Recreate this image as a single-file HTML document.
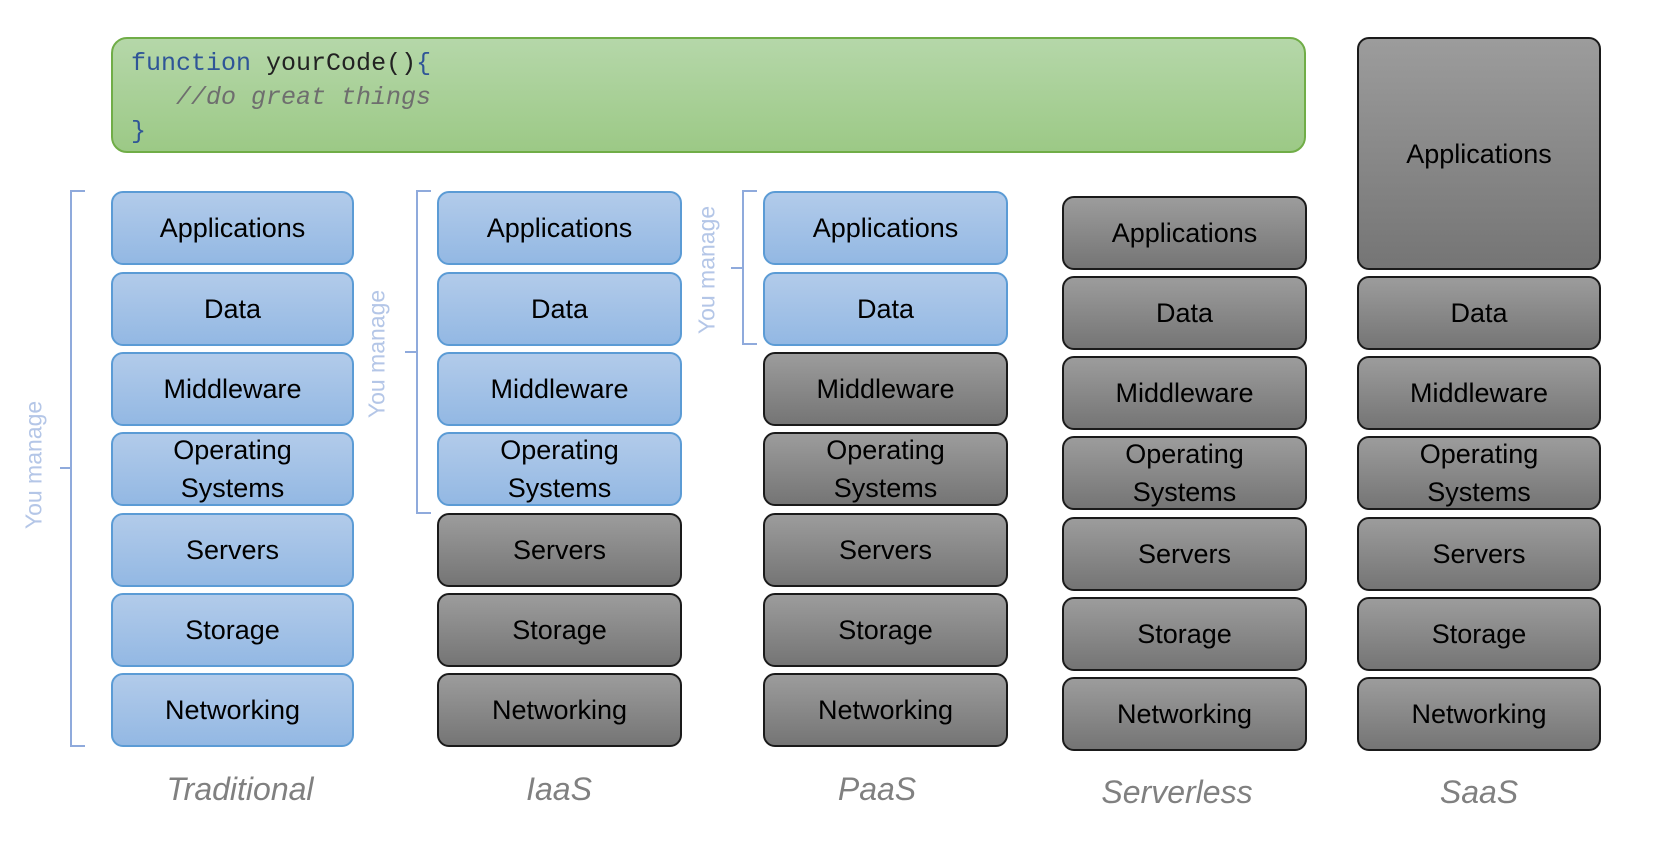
<!DOCTYPE html>
<html><head><meta charset="utf-8"><style>
body{margin:0;width:1654px;height:846px;background:#fff;position:relative;overflow:hidden;font-family:"Liberation Sans",sans-serif}
.b{position:absolute;box-sizing:border-box;border-radius:12px;display:flex;align-items:center;justify-content:center;text-align:center;font-size:27px;line-height:38px;color:#000}
.u{background:linear-gradient(#b2cbea,#93b8e3);border:2px solid #5b9bd5}
.g{background:linear-gradient(#9c9c9c,#757575);border:2px solid #1a1a1a}
.lbl{position:absolute;font-style:italic;color:#808080;font-size:32px;text-align:center;width:300px}
.ym{position:absolute;color:#b4c6e7;font-size:23px;transform:translate(-50%,-50%) rotate(-90deg);white-space:nowrap}
.code{position:absolute;left:111px;top:37px;width:1195px;height:116px;box-sizing:border-box;border:2px solid #70ad47;border-radius:16px;background:linear-gradient(#b5d7a9,#9cc986);font-family:"Liberation Mono",monospace;font-size:25px;line-height:34px;padding:8px 0 0 18px;white-space:pre}
</style></head><body>
<div class="code"><span style="color:#2f5597">function</span> <span style="color:#222">yourCode()</span><span style="color:#2f5597">{</span>
   <span style="color:#6e6e6e;font-style:italic">//do great things</span>
<span style="color:#2f5597">}</span></div>

<svg style="position:absolute;left:0;top:0" width="1654" height="846" fill="none" stroke="#8faadc" stroke-width="2">
<path d="M85 191 H71 V746 H85 M71 468 H60"/>
<path d="M431 191 H417 V513 H431 M417 352 H405"/>
<path d="M757 191 H743 V344 H757 M743 268 H731"/>
</svg>
<div class="ym" style="left:34px;top:465px">You manage</div>
<div class="ym" style="left:377px;top:354px">You manage</div>
<div class="ym" style="left:707px;top:270px">You manage</div>

<!-- Traditional -->
<div class="b u" style="left:111px;top:191px;width:243px;height:74px">Applications</div>
<div class="b u" style="left:111px;top:272px;width:243px;height:74px">Data</div>
<div class="b u" style="left:111px;top:352px;width:243px;height:74px">Middleware</div>
<div class="b u" style="left:111px;top:432px;width:243px;height:74px">Operating<br>Systems</div>
<div class="b u" style="left:111px;top:513px;width:243px;height:74px">Servers</div>
<div class="b u" style="left:111px;top:593px;width:243px;height:74px">Storage</div>
<div class="b u" style="left:111px;top:673px;width:243px;height:74px">Networking</div>
<!-- IaaS -->
<div class="b u" style="left:437px;top:191px;width:245px;height:74px">Applications</div>
<div class="b u" style="left:437px;top:272px;width:245px;height:74px">Data</div>
<div class="b u" style="left:437px;top:352px;width:245px;height:74px">Middleware</div>
<div class="b u" style="left:437px;top:432px;width:245px;height:74px">Operating<br>Systems</div>
<div class="b g" style="left:437px;top:513px;width:245px;height:74px">Servers</div>
<div class="b g" style="left:437px;top:593px;width:245px;height:74px">Storage</div>
<div class="b g" style="left:437px;top:673px;width:245px;height:74px">Networking</div>
<!-- PaaS -->
<div class="b u" style="left:763px;top:191px;width:245px;height:74px">Applications</div>
<div class="b u" style="left:763px;top:272px;width:245px;height:74px">Data</div>
<div class="b g" style="left:763px;top:352px;width:245px;height:74px">Middleware</div>
<div class="b g" style="left:763px;top:432px;width:245px;height:74px">Operating<br>Systems</div>
<div class="b g" style="left:763px;top:513px;width:245px;height:74px">Servers</div>
<div class="b g" style="left:763px;top:593px;width:245px;height:74px">Storage</div>
<div class="b g" style="left:763px;top:673px;width:245px;height:74px">Networking</div>
<!-- Serverless -->
<div class="b g" style="left:1062px;top:196px;width:245px;height:74px">Applications</div>
<div class="b g" style="left:1062px;top:276px;width:245px;height:74px">Data</div>
<div class="b g" style="left:1062px;top:356px;width:245px;height:74px">Middleware</div>
<div class="b g" style="left:1062px;top:436px;width:245px;height:74px">Operating<br>Systems</div>
<div class="b g" style="left:1062px;top:517px;width:245px;height:74px">Servers</div>
<div class="b g" style="left:1062px;top:597px;width:245px;height:74px">Storage</div>
<div class="b g" style="left:1062px;top:677px;width:245px;height:74px">Networking</div>
<!-- SaaS -->
<div class="b g" style="left:1357px;top:37px;width:244px;height:233px">Applications</div>
<div class="b g" style="left:1357px;top:276px;width:244px;height:74px">Data</div>
<div class="b g" style="left:1357px;top:356px;width:244px;height:74px">Middleware</div>
<div class="b g" style="left:1357px;top:436px;width:244px;height:74px">Operating<br>Systems</div>
<div class="b g" style="left:1357px;top:517px;width:244px;height:74px">Servers</div>
<div class="b g" style="left:1357px;top:597px;width:244px;height:74px">Storage</div>
<div class="b g" style="left:1357px;top:677px;width:244px;height:74px">Networking</div>

<div class="lbl" style="left:90px;top:771px">Traditional</div>
<div class="lbl" style="left:409px;top:771px">IaaS</div>
<div class="lbl" style="left:727px;top:771px">PaaS</div>
<div class="lbl" style="left:1027px;top:774px">Serverless</div>
<div class="lbl" style="left:1329px;top:774px">SaaS</div>
</body></html>
